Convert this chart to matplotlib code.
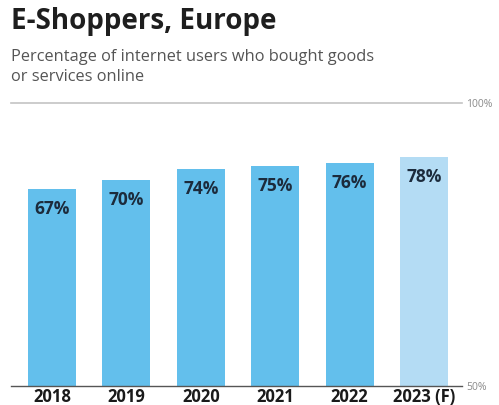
import matplotlib
matplotlib.use("Agg")
import matplotlib.pyplot as plt

# share of internet users who bought goods or services online, Europe
years = ["2018", "2019", "2020", "2021", "2022", "2023 (F)"]
shares = [67, 70, 74, 75, 76, 78]
is_forecast = [False, False, False, False, False, True]

plt.rcParams["font.family"] = ["Open Sans", "DejaVu Sans"]

fig = plt.figure(figsize=(4.99, 4.05), dpi=100)
ax = fig.add_axes([11 / 499, 1 - 386 / 405, 451 / 499, (386 - 102.7) / 405])

colors = ["#b4dcf4" if f else "#63bfec" for f in is_forecast]
x = list(range(len(years)))
bars = ax.bar(x, shares, width=0.645, color=colors, zorder=2)

# value labels sit just inside the top of each bar
for b, v in zip(bars, shares):
    ax.annotate(f"{v}%", (b.get_x() + b.get_width() / 2, v),
                xytext=(0, -20), textcoords="offset pixels",
                ha="center", va="center", fontsize=12.5, fontweight="bold",
                color="#1c2b3c")

ax.set_xlim(-0.551, 5.51)
ax.set_ylim(0, 96.4)

ax.set_xticks(x)
ax.set_xticklabels(years, fontsize=12, fontweight="bold", color="#1a1a1a")
ax.tick_params(axis="x", length=0, pad=1.5)

ax.yaxis.tick_right()
ax.set_yticks([0, 96.4])
ax.set_yticklabels(["50%", "100%"], fontsize=7.5, color="#8a8a8a")
ax.tick_params(axis="y", length=0, pad=3)

for s in ["left", "right"]:
    ax.spines[s].set_visible(False)
ax.spines["bottom"].set_color("#555555")
ax.spines["bottom"].set_linewidth(1.0)
ax.spines["top"].set_color("#c4c4c4")
ax.spines["top"].set_linewidth(1.2)

fig.text(11 / 499, 1 - 22 / 405, "E-Shoppers, Europe", fontsize=20,
         fontweight="bold", color="#1e1e1e", va="center", ha="left")
fig.text(11 / 499, 1 - 57 / 405, "Percentage of internet users who bought goods",
         fontsize=11.8, color="#555555", va="center", ha="left")
fig.text(11 / 499, 1 - 77 / 405, "or services online",
         fontsize=11.8, color="#555555", va="center", ha="left")

fig.savefig("out.png", dpi=100)
